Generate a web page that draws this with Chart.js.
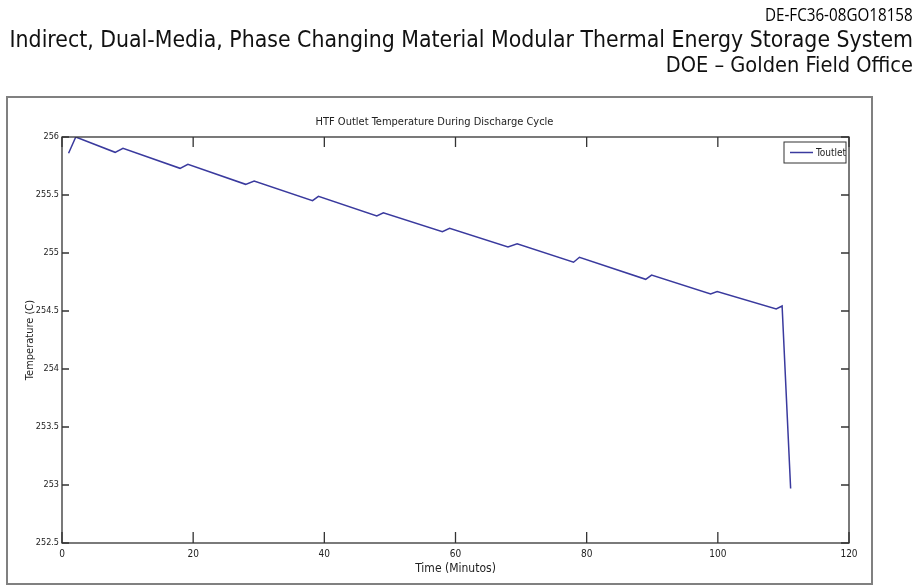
<!DOCTYPE html>
<html>
<head>
<meta charset="utf-8">
<script src="https://cdn.jsdelivr.net/npm/chart.js@4/dist/chart.umd.min.js"></script>
<style>
  body { margin: 0; background: #fff; width: 918px; height: 586px; overflow: hidden; position: relative; }
  .hdr { position: absolute; right: 5px; white-space: nowrap; color: #111; z-index: 2; transform-origin: right center; }
  #h1 { top: 1px; font-family: "Open Sans", sans-serif; font-weight: 400; font-size: 19px; color: #000; transform: scaleX(0.8); }
  #h2 { top: 26px; font-family: "DejaVu Sans Condensed", "DejaVu Sans", sans-serif; font-stretch: condensed; font-size: 22.8px; }
  #h3 { top: 52px; font-family: "DejaVu Sans Condensed", "DejaVu Sans", sans-serif; font-stretch: condensed; font-size: 21.6px; }
  #chartBox { position: absolute; left: 0; top: 0; width: 918px; height: 586px; z-index: 1; }
</style>
</head>
<body>
<div class="hdr" id="h1">DE-FC36-08GO18158</div>
<div class="hdr" id="h2">Indirect, Dual-Media, Phase Changing Material Modular Thermal Energy Storage System</div>
<div class="hdr" id="h3">DOE – Golden Field Office</div>
<div id="chartBox"><canvas id="myChart" width="918" height="586"></canvas></div>
<script>
// values
const minutes = [1, 2.1, 8.1, 9.3, 18.0, 19.2, 28.0, 29.3, 38.2, 39.1, 48.0, 49.0,
  58.0, 59.1, 68.0, 69.4, 78.0, 78.9, 89.0, 89.9, 98.9, 99.9, 108.9, 109.8, 111.1];
const toutlet = [255.86, 256.0, 255.868, 255.903, 255.73, 255.765, 255.592, 255.62,
  255.451, 255.489, 255.319, 255.347, 255.184, 255.213, 255.052, 255.08, 254.92,
  254.963, 254.773, 254.81, 254.647, 254.667, 254.517, 254.543, 252.97];
const xTicks = [0, 20, 40, 60, 80, 100, 120];
const yTicks = [252.5, 253, 253.5, 254, 254.5, 255, 255.5, 256];

const narrow = '"DejaVu Sans Condensed", "Liberation Sans Narrow", sans-serif';
const lineColor = "#3a3a9e";

// outer frame, axes box with inward ticks (matlab style) and the legend
const matlabBox = {
  id: "matlabBox",
  beforeDraw(chart) {
    const ctx = chart.ctx;
    ctx.save();
    ctx.strokeStyle = "#808080";
    ctx.lineWidth = 2;
    ctx.strokeRect(7, 97, 865, 487);
    ctx.restore();
  },
  afterDraw(chart) {
    const ctx = chart.ctx;
    const a = chart.chartArea;
    const xs = chart.scales.x;
    const ys = chart.scales.y;
    ctx.save();
    ctx.strokeStyle = "#333";
    ctx.lineWidth = 1.3;
    ctx.strokeRect(a.left, a.top, a.right - a.left, a.bottom - a.top);
    ctx.beginPath();
    xTicks.forEach((v) => {
      const px = xs.getPixelForValue(v);
      ctx.moveTo(px, a.bottom);
      ctx.lineTo(px, a.bottom - 11);
      ctx.moveTo(px, a.top);
      ctx.lineTo(px, a.top + 10);
    });
    yTicks.forEach((v) => {
      const py = ys.getPixelForValue(v);
      ctx.moveTo(a.left, py);
      ctx.lineTo(a.left + 7, py);
      ctx.moveTo(a.right, py);
      ctx.lineTo(a.right - 8, py);
    });
    ctx.stroke();

    // legend
    const ds = chart.data.datasets[0];
    const bx = a.right - 65, by = a.top + 5, bw = 62, bh = 21;
    ctx.fillStyle = "#fff";
    ctx.fillRect(bx, by, bw, bh);
    ctx.strokeStyle = "#333";
    ctx.lineWidth = 1;
    ctx.strokeRect(bx, by, bw, bh);
    ctx.strokeStyle = ds.borderColor;
    ctx.lineWidth = 1.5;
    ctx.beginPath();
    ctx.moveTo(bx + 6, by + bh / 2);
    ctx.lineTo(bx + 29, by + bh / 2);
    ctx.stroke();
    ctx.fillStyle = "#222";
    ctx.font = "10px " + narrow;
    ctx.textBaseline = "middle";
    ctx.fillText(ds.label, bx + 32, by + bh / 2 + 0.5);
    ctx.restore();
  },
};

new Chart(document.getElementById("myChart"), {
  type: "line",
  data: {
    datasets: [
      {
        label: "Toutlet",
        data: minutes.map((m, i) => ({ x: m, y: toutlet[i] })),
        borderColor: lineColor,
        borderWidth: 1.5,
        pointRadius: 0,
        tension: 0,
        fill: false,
      },
    ],
  },
  options: {
    responsive: false,
    animation: false,
    layout: { padding: { left: 20, right: 69, top: 116, bottom: 4 } },
    plugins: {
      legend: { display: false },
      tooltip: { enabled: false },
      title: {
        display: true,
        text: "HTF Outlet Temperature During Discharge Cycle",
        color: "#222",
        font: { family: narrow, size: 11, weight: "normal", lineHeight: 1.2 },
        padding: { top: 0, bottom: 7.8 },
      },
    },
    scales: {
      x: {
        type: "linear",
        min: 0,
        max: 120,
        afterBuildTicks: (s) => { s.ticks = xTicks.map((v) => ({ value: v })); },
        afterFit: (s) => { s.height = 39; },
        grid: { display: false, drawTicks: false },
        border: { display: false },
        ticks: { color: "#222", padding: 5, maxRotation: 0, font: { family: narrow, size: 10 }, callback: (v) => String(v) },
        title: {
          display: true,
          text: "Time (Minutos)",
          color: "#222",
          font: { family: narrow, size: 12, lineHeight: 1.2 },
          padding: { top: 0, bottom: 6 },
        },
      },
      y: {
        min: 252.5,
        max: 256,
        afterBuildTicks: (s) => { s.ticks = yTicks.map((v) => ({ value: v })); },
        afterFit: (s) => { s.width = 42; },
        grid: { display: false, drawTicks: false },
        border: { display: false },
        ticks: { color: "#222", padding: 3, font: { family: narrow, size: 9 }, callback: (v) => String(v) },
        title: {
          display: true,
          text: "Temperature (C)",
          color: "#222",
          font: { family: narrow, size: 11, lineHeight: 1.2 },
          padding: { top: 3.5, bottom: 0 },
        },
      },
    },
  },
  plugins: [matlabBox],
});
</script>
</body>
</html>
